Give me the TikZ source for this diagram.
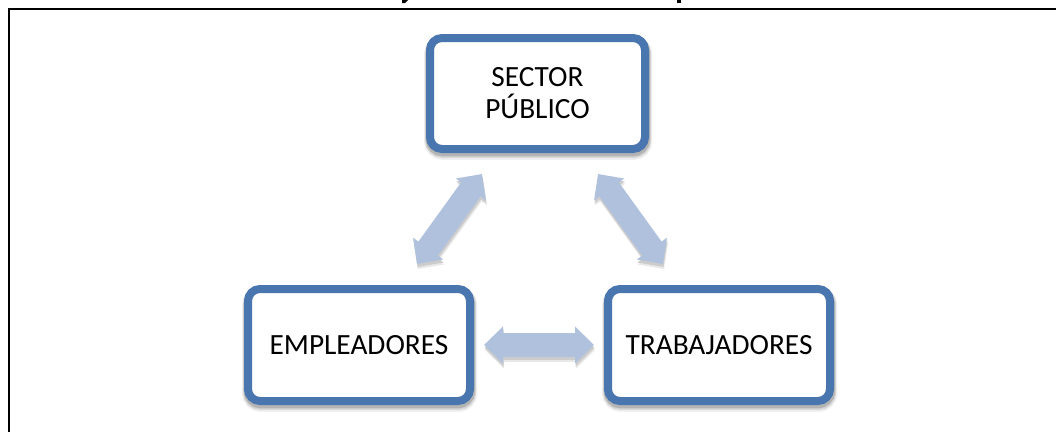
\documentclass[tikz,border=0pt]{standalone}
\usepackage{fontspec}
\setmainfont{Carlito}
\usetikzlibrary{calc,arrows.meta}
\definecolor{boxblue}{HTML}{4A76AF}
\definecolor{arrowblue}{HTML}{B0C1DD}
\tikzset{
  px/.style={x=0.75pt,y=-0.75pt},
  softshadow/.style={
    preaction={draw=black,fill=none,opacity=.06,line width=10pt,transform canvas={yshift=-3.2pt,xshift=.5pt}},
    preaction={draw=black,fill=none,opacity=.10,line width=8.5pt,transform canvas={yshift=-2.6pt,xshift=.4pt}},
    preaction={draw=black,fill=none,opacity=.16,line width=7pt,transform canvas={yshift=-2pt,xshift=.3pt}}},
  roundbox/.style={draw=boxblue,fill=white,line width=6pt,rounded corners=9pt,inner sep=0pt,
    align=center,text=black,font=\fontsize{22}{24}\selectfont,softshadow},
  bigarrow/.style={draw=#1,line width=18pt,{Triangle[length=14.25pt,width=27pt]}-{Triangle[length=14.25pt,width=27pt]}},
  frameline/.style={draw=black,line width=1.6pt}
}
\begin{document}
\begin{tikzpicture}[px]
\useasboundingbox (0,0) rectangle (1056,432);
\fill[white] (0,0) rectangle (1056,432);
\coordinate (fa) at (9,432);
\coordinate (fb) at (9,9);
\coordinate (fc) at (1056,9);
\draw[frameline,line join=miter] (fa) -- (fb) -- (fc);
\fill[black] (402,0) -- (408,0) -- (405,3) -- (402,3) -- cycle;
\fill[black] (677,0) rectangle (680.5,3);
\node[roundbox,minimum width=161.25pt,minimum height=83.25pt] (pub) at (537.5,93.5) {SECTOR\\PÚBLICO};
\node[roundbox,minimum width=166.5pt,minimum height=84pt] (emp) at (359,345) {EMPLEADORES};
\node[roundbox,minimum width=166.5pt,minimum height=84pt] (wrk) at (719,345) {TRABAJADORES};
\coordinate (a1) at ($(pub.south)+(-55.5,21)$);
\coordinate (a2) at ($(emp.north)+(58,-21)$);
\coordinate (b1) at ($(pub.south)+(60.5,21)$);
\coordinate (b2) at ($(wrk.north)+(-56,-21)$);
\coordinate (c1) at ($(emp.east)+(10,0)$);
\coordinate (c2) at ($(wrk.west)+(-10,0)$);
\foreach \s/\e in {a1/a2,b1/b2,c1/c2}{
  \draw[bigarrow=black!9] ($(\s)+(1,5)$) -- ($(\e)+(1,5)$);
  \draw[bigarrow=black!20] ($(\s)+(.5,3)$) -- ($(\e)+(.5,3)$);
  \draw[bigarrow=arrowblue] (\s) -- (\e);
}
\end{tikzpicture}
\end{document}
